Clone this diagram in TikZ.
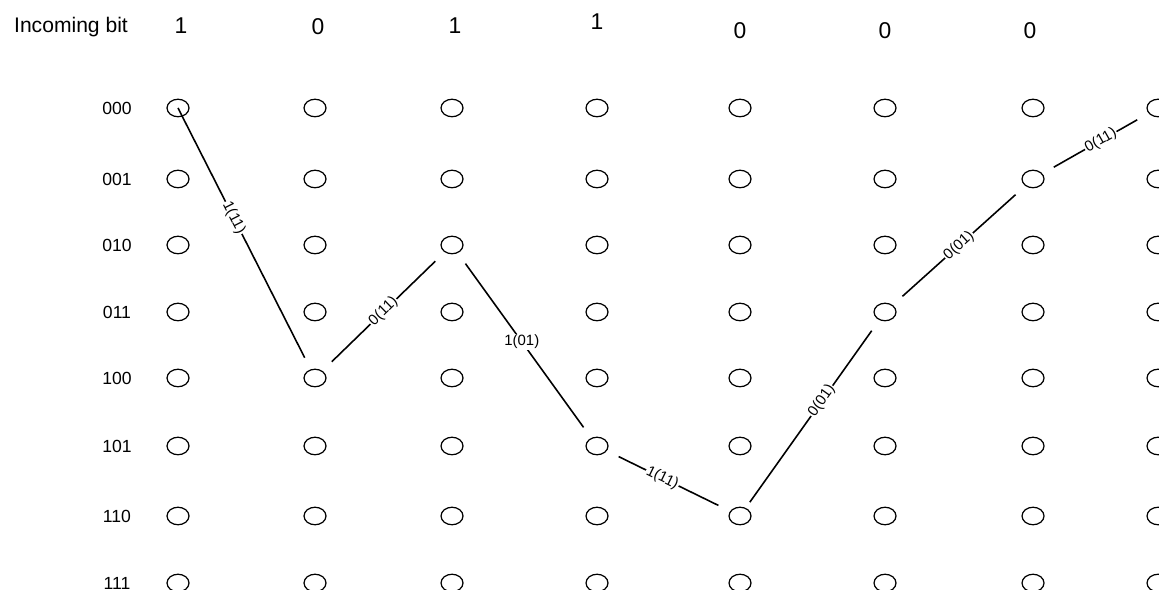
\documentclass[tikz,border=0pt]{standalone}
\usepackage{fontspec}
\setmainfont{Liberation Sans}
\usetikzlibrary{shapes.geometric}

\begin{document}
\begin{tikzpicture}[x=0.02cm,y=-0.02cm,
  every node/.style={font=\fontsize{10}{12}\selectfont},
  state/.style={draw,ellipse,minimum width=0.44cm,minimum height=0.35cm,inner sep=0pt,line width=0.7pt},
  trans/.style={line width=0.9pt,shorten <=0.26cm,shorten >=0.26cm},
  flatlbl/.style={fill=white,inner sep=0.6pt,font=\fontsize{8.5}{9}\selectfont},
  lbl/.style={flatlbl,sloped}
]
  \useasboundingbox (0,0) rectangle (1159,590);
  \clip (0,0) rectangle (1159,590);

  % header
  \node[font=\fontsize{12}{14}\selectfont] (title) at (71,27) {Incoming bit};
  \foreach \x/\b/\y [count=\c] in {181/1/26,318/0/27,455/1/26,597/1/22,740/0/31,885/0/31,1030/0/31}
    \node[font=\fontsize{13}{15}\selectfont] (b-\c) at (\x,\y) {\b};

  % trellis states
  \foreach \y/\lab [count=\r] in {108/000,179/001,245/010,312/011,378/100,446/101,516/110,583/111}{
    \node (s-\r) at (117,\y) {\lab};
    \foreach \x [count=\c] in {178,315,452,597,740,885,1033,1158}
      \node[state] (n-\c-\r) at (\x,\y) {};
  }

  % decoded path
  \draw[trans,shorten <=0pt] (n-1-1.center) -- node[lbl,pos=0.42] {1(11)} (n-2-5);
  \draw[trans] (n-2-5) -- node[lbl,pos=0.5] {0(11)} (n-3-3);
  \draw[trans] (n-3-3) -- node[flatlbl,pos=0.48] {1(01)} (n-4-6);
  \draw[trans] (n-4-6) -- node[lbl,pos=0.45] {1(11)} (n-5-7);
  \draw[trans,shorten <=0.14cm] (n-5-7) -- node[lbl,pos=0.57] {0(01)} (n-6-4);
  \draw[trans] (n-6-4) -- node[lbl,pos=0.5] {0(01)} (n-7-2);
  \draw[trans] (n-7-2) -- node[lbl,pos=0.55] {0(11)} (n-8-1);
\end{tikzpicture}
\end{document}
